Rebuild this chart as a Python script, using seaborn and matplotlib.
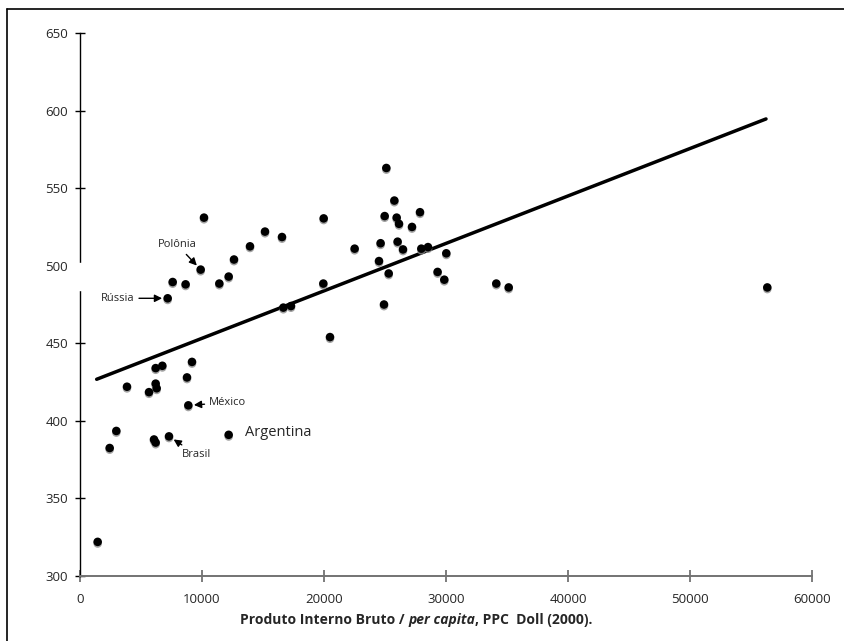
import numpy as np
import pandas as pd
import matplotlib
matplotlib.use("Agg")
import matplotlib.pyplot as plt
import matplotlib.patheffects as pe
from matplotlib.lines import Line2D
from matplotlib.patches import Rectangle
import seaborn as sns

# PIB per capita (PPC, US$ 2000) e desempenho medio por pais
pib = [1448, 2432, 2978, 3852, 5656, 6066, 6202, 6202, 6284, 6202,
       6749, 7186, 7295, 7596, 8656, 8770, 8880, 9180, 9891, 10164,
       11421, 12186, 12186, 12623, 13934, 15164, 16557, 16667, 17295, 19945,
       19973, 20492, 22511, 24508, 24639, 24918, 24973, 25109, 25303, 25768,
       25956, 26034, 26148, 26475, 27213, 27869, 27978, 28525, 29311, 29861,
       30025, 34123, 35139, 56336]
nota = [322, 382.5, 393.5, 422, 418.5, 388, 386, 424, 421, 434,
        435.5, 479, 390, 489.5, 488, 428, 410, 438, 497.5, 531,
        488.5, 493, 391, 504, 512.5, 522, 518.5, 473, 474, 488.5,
        530.5, 454, 511, 503, 514.5, 475, 532, 563, 495, 542,
        531, 515.5, 527, 510.5, 525, 534.5, 511, 512, 496, 491,
        508, 488.5, 486, 486]

# linha de tendencia (extremos)
trend_x = [1366, 56230]
trend_y = [426.8, 594.6]

# paises destacados: (nome, x, y)
rotulos = [("Polônia", 9891, 497.5), ("Rússia", 7186, 479),
           ("México", 8880, 410), ("Brasil", 7295, 390)]
argentina = ("Argentina", 12186, 391)

xticks = [0, 10000, 20000, 30000, 40000, 50000, 60000]
yticks = [300, 350, 400, 450, 500, 550, 600, 650]

df = pd.DataFrame({"pib": pib, "nota": nota})
trend = pd.DataFrame({"x": trend_x, "y": trend_y})

sns.set_style("white")
plt.rcParams["font.family"] = ["Open Sans", "DejaVu Sans"]

fig = plt.figure(figsize=(8.45, 6.41), dpi=100)
ax = fig.add_axes([80 / 845, 1 - 576 / 641, 732 / 845, 543 / 641])

sns.lineplot(data=trend, x="x", y="y", color="black", lw=2.5, ax=ax, zorder=3)
sns.scatterplot(data=df, x="pib", y="nota", color="black", s=38, linewidth=0,
                ax=ax, zorder=4,
                path_effects=[pe.SimplePatchShadow(offset=(0, -1.2), shadow_rgbFace="0.55", alpha=0.8),
                              pe.Normal()])

ax.set_xlim(0, 60000)
ax.set_ylim(300, 650)
ax.set_xticks(xticks)
ax.set_yticks(yticks)
ax.set_xlabel("")
ax.set_ylabel("")

for s in ["top", "right"]:
    ax.spines[s].set_visible(False)
ax.spines["left"].set_color("black")
ax.spines["left"].set_linewidth(1.0)
ax.spines["bottom"].set_color("0.45")
ax.spines["bottom"].set_linewidth(1.4)
ax.tick_params(axis="y", direction="inout", length=7, width=1, color="black",
               labelsize=9.5, pad=5, left=True)
ax.tick_params(axis="x", direction="inout", length=8, width=1.2, color="0.4",
               labelsize=9.5, pad=8, bottom=True)

# pequena falha no eixo vertical, como no original
ax.add_patch(Rectangle((-0.01, 484.5), 0.02, 17, transform=ax.get_yaxis_transform(),
                       color="white", clip_on=False, zorder=6))

arrow = dict(arrowstyle="-|>", color="black", lw=1.0, mutation_scale=11,
             shrinkA=1, shrinkB=4)
ax.annotate(rotulos[0][0], xy=(rotulos[0][1], rotulos[0][2]), xytext=(-17, 14),
            textcoords="offset points", ha="center", va="bottom", fontsize=8,
            arrowprops=arrow)
ax.annotate(rotulos[1][0], xy=(rotulos[1][1], rotulos[1][2]), xytext=(-24, 0),
            textcoords="offset points", ha="right", va="center", fontsize=8,
            arrowprops=arrow)
ax.annotate(rotulos[2][0], xy=(rotulos[2][1], rotulos[2][2]), xytext=(15, 2),
            textcoords="offset points", ha="left", va="center", fontsize=8,
            arrowprops=arrow)
ax.annotate(rotulos[3][0], xy=(rotulos[3][1], rotulos[3][2]), xytext=(9, -13),
            textcoords="offset points", ha="left", va="center", fontsize=8,
            arrowprops=arrow)
ax.annotate(argentina[0], xy=(argentina[1], argentina[2]), xytext=(12, 2),
            textcoords="offset points", ha="left", va="center", fontsize=10.5)

# titulo do eixo x com trecho em italico
partes = [("Produto Interno Bruto / ", "normal"), ("per capita", "italic"),
          (", PPC  Doll (2000).", "normal")]
fig.canvas.draw()
r = fig.canvas.get_renderer()
textos = []
for txt, estilo in partes:
    t = fig.text(0, 1 - 620 / 641, txt, fontsize=10, fontweight="bold",
                 fontstyle=estilo, va="center", ha="left")
    textos.append(t)
larguras = [t.get_window_extent(r).width for t in textos]
x0 = 416 - sum(larguras) / 2
for t, w in zip(textos, larguras):
    t.set_x(x0 / 845)
    x0 += w

# moldura (so lados esquerdo e superior aparecem)
fig.add_artist(Line2D([7 / 845, 7 / 845], [0, 1 - 9 / 641], color="black", lw=1.2))
fig.add_artist(Line2D([7 / 845, 1], [1 - 9 / 641, 1 - 9 / 641], color="black", lw=1.2))

fig.savefig("out.png", dpi=100)
